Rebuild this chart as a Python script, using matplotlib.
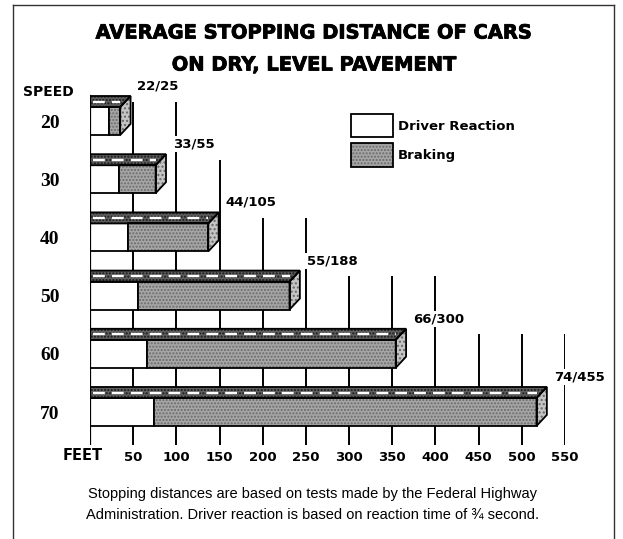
import matplotlib.pyplot as plt
from matplotlib.patches import Polygon, Rectangle
import matplotlib.patheffects as pe

# data (feet)
speeds = [20, 30, 40, 50, 60, 70]
reaction = [22, 33, 44, 55, 66, 74]
braking = [25, 55, 105, 188, 300, 455]
ticks = [50, 100, 150, 200, 250, 300, 350, 400, 450, 500, 550]

W, H = 623, 539
fig = plt.figure(figsize=(W / 100, H / 100), dpi=100)
fig.patch.set_facecolor('white')

def fx(px):
    return px / W

def fy(py):
    return 1 - py / H

# main chart axes: 0 ft at x=90px, 550 ft at x=565px
ax = fig.add_axes([fx(90), fy(445), fx(565) - fx(90), fy(90) - fy(445)])
ax.set_xlim(0, 550)
ax.set_ylim(5.567, -0.533)
for s in ax.spines.values():
    s.set_visible(False)

h = 0.48     # front face height (rows)
dy = 0.19    # depth of the top face
dx = 12      # depth in feet
bold = dict(family='DejaVu Sans', weight='bold')
heavy = [pe.withStroke(linewidth=0.6, foreground='black')]
gray = '#a6a6a6'
dots = '#6a6a6a'

totals = [r + b for r, b in zip(reaction, braking)]

# grid lines, they stop a little above the bar they clear
for v in ticks:
    k = 0
    for i, t in enumerate(totals):
        if t < v - 50:
            k = i
    top = k - h / 2 - dy / 2
    ax.plot([v, v], [top, 5.567], color='black', lw=1.4, zorder=1,
            solid_capstyle='butt')

ax.plot([0, 0], [-h / 2 - dy, 5.567], color='black', lw=1.6, zorder=6)

for i, (r, b) in enumerate(zip(reaction, braking)):
    t = r + b
    y0 = i - h / 2
    y1 = i + h / 2
    front = t - dx
    # front: driver reaction + braking
    ax.add_patch(Rectangle((0, y0), r, h, facecolor='white',
                           edgecolor='black', lw=1.3, zorder=3))
    ax.add_patch(Rectangle((r, y0), front - r, h, facecolor=gray,
                           edgecolor=dots, hatch='.....', lw=0, zorder=3))
    ax.add_patch(Rectangle((r, y0), front - r, h, fill=False,
                           edgecolor='black', lw=1.3, zorder=4))
    # top face
    top_pts = [(0, y0), (front, y0), (t, y0 - dy), (0, y0 - dy)]
    ax.add_patch(Polygon(top_pts, closed=True, facecolor='#5e5e5e',
                         edgecolor='#1a1a1a', hatch='.....', lw=0, zorder=3))
    ax.add_patch(Polygon(top_pts, closed=True, fill=False,
                         edgecolor='black', lw=1.3, zorder=4))
    ax.plot([3, front], [y0 - dy / 2] * 2, color='white', lw=1.7,
            ls=(0, (5, 3)), zorder=5)
    # right side face
    side_pts = [(front, y0), (t, y0 - dy), (t, y1 - dy), (front, y1)]
    ax.add_patch(Polygon(side_pts, closed=True, facecolor='#c4c4c4',
                         edgecolor='#666666', hatch='....', lw=0, zorder=3))
    ax.add_patch(Polygon(side_pts, closed=True, fill=False,
                         edgecolor='black', lw=1.3, zorder=4))
    # value label
    ax.text(t + 8, y0 - dy - 0.17, f"{r}/{b}", ha='left', va='center',
            fontsize=9.5, zorder=7,
            bbox=dict(facecolor='white', edgecolor='none', pad=1), **bold)

ax.set_xticks(ticks)
ax.set_xticklabels([str(v) for v in ticks], fontsize=9.5, **bold)
ax.set_yticks(range(len(speeds)))
ax.set_yticklabels([str(s) for s in speeds], fontsize=14,
                   family='Liberation Serif', weight='bold')
ax.tick_params(axis='x', length=0, pad=4)
ax.tick_params(axis='y', length=0, pad=22)
ax.patch.set_alpha(0)

# overlay in pixel units for title, legend, notes and frame
ov = fig.add_axes([0, 0, 1, 1])
ov.set_xlim(0, W)
ov.set_ylim(H, 0)
ov.axis('off')
ov.patch.set_alpha(0)

ov.plot([13, 13], [5, H], color='#333333', lw=1)
ov.plot([13, 614], [5, 5], color='#333333', lw=1)
ov.plot([614, 614], [5, H], color='#333333', lw=1)

ov.text(314, 33, "AVERAGE STOPPING DISTANCE OF CARS", ha='center',
        va='center', fontsize=14, path_effects=heavy, **bold)
ov.text(314, 65, "ON DRY, LEVEL PAVEMENT", ha='center', va='center',
        fontsize=14, path_effects=heavy, **bold)
ov.text(23, 92, "SPEED", ha='left', va='center', fontsize=10, **bold)
ov.text(63, 456, "FEET", ha='left', va='center', fontsize=10.5, **bold)

# legend
ov.add_patch(Rectangle((351, 114), 42, 23, facecolor='white',
                       edgecolor='black', lw=1.3))
ov.add_patch(Rectangle((351, 143), 42, 24, facecolor=gray,
                       edgecolor=dots, hatch='.....', lw=0))
ov.add_patch(Rectangle((351, 143), 42, 24, fill=False,
                       edgecolor='black', lw=1.3))
ov.text(398, 126, "Driver Reaction", ha='left', va='center',
        fontsize=9.5, **bold)
ov.text(398, 155, "Braking", ha='left', va='center', fontsize=9.5, **bold)

note_font = ['Liberation Sans Narrow', 'Liberation Sans', 'DejaVu Sans']
ov.text(312, 494,
        "Stopping distances are based on tests made by the Federal Highway",
        ha='center', va='center', fontsize=10.5, family=note_font)
ov.text(312, 515,
        "Administration. Driver reaction is based on reaction time of \u00be second.",
        ha='center', va='center', fontsize=10.5, family=note_font)

fig.savefig('out.png', dpi=100)
